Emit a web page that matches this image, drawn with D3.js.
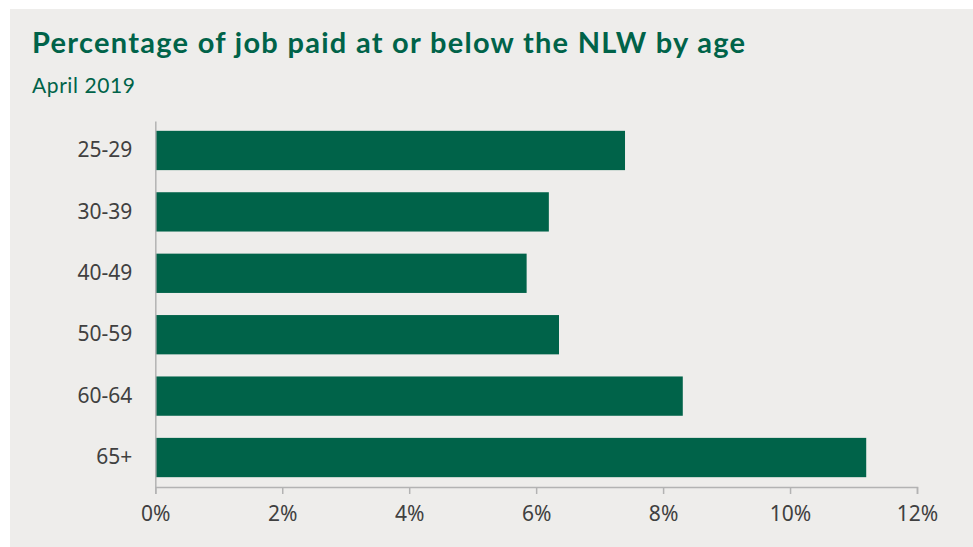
<!DOCTYPE html>
<html>
<head>
<meta charset="utf-8">
<script src="https://cdn.jsdelivr.net/npm/d3@7"></script>
<style>
  html, body { margin: 0; padding: 0; background: #ffffff; }
  svg { display: block; }
</style>
</head>
<body>
<svg id="chart" width="973" height="547"></svg>
<script>
// Share of jobs paid at or below the National Living Wage, by age band
const ageBands = ["25-29", "30-39", "40-49", "50-59", "60-64", "65+"];
const sharePct = [7.4, 6.2, 5.85, 6.36, 8.31, 11.2];
const tickValues = [0, 2, 4, 6, 8, 10, 12];

const titleText = "Percentage of job paid at or below the NLW by age";
const subtitleText = "April 2019";

const green = "#006349";
const axisGrey = "#b3b3b3";
const labelGrey = "#404040";

const svg = d3.select("#chart");

// Panel background
svg.append("rect")
  .attr("x", 10).attr("y", 9)
  .attr("width", 963).attr("height", 538)
  .attr("fill", "#eeedeb");

svg.append("text")
  .attr("x", 32).attr("y", 53)
  .attr("font-family", "Lato, 'Open Sans', sans-serif")
  .attr("font-weight", 700)
  .attr("font-size", 29)
  .attr("textLength", 713)
  .attr("lengthAdjust", "spacing")
  .attr("fill", green)
  .text(titleText);

svg.append("text")
  .attr("x", 32).attr("y", 93)
  .attr("font-family", "Lato, 'Open Sans', sans-serif")
  .attr("font-size", 21)
  .attr("textLength", 103)
  .attr("lengthAdjust", "spacing")
  .attr("fill", green)
  .text(subtitleText);

const x = d3.scaleLinear().domain([0, 12]).range([155.3, 917]);
const y = d3.scaleBand().domain(ageBands).range([121, 487])
  .paddingInner(0.36).paddingOuter(0.16);

const data = ageBands.map((a, i) => ({ age: a, v: sharePct[i] }));

svg.append("g").selectAll("rect")
  .data(data)
  .join("rect")
  .attr("x", x(0))
  .attr("y", d => y(d.age))
  .attr("width", d => x(d.v) - x(0))
  .attr("height", y.bandwidth())
  .attr("fill", green);

// Horizontal axis
const xAxis = svg.append("g")
  .attr("transform", "translate(0,487)")
  .call(d3.axisBottom(x).tickValues(tickValues).tickFormat(d => d + "%").tickSizeOuter(0).tickSize(7).tickPadding(12));
xAxis.select(".domain").attr("stroke", axisGrey).attr("stroke-width", 1.5);
xAxis.selectAll(".tick line").attr("stroke", axisGrey).attr("stroke-width", 1.5);
xAxis.selectAll(".tick text")
  .attr("font-family", "'Noto Sans', 'Open Sans', sans-serif")
  .attr("font-size", 21)
  .attr("fill", labelGrey);

// Vertical axis
const yAxis = svg.append("g")
  .attr("transform", "translate(" + x(0) + ",0)")
  .call(d3.axisLeft(y).tickSize(0).tickPadding(23));
yAxis.select(".domain").attr("stroke", axisGrey).attr("stroke-width", 1.5);
yAxis.selectAll(".tick text")
  .attr("font-family", "'Noto Sans', 'Open Sans', sans-serif")
  .attr("font-size", 21)
  .attr("fill", labelGrey);
</script>
</body>
</html>
